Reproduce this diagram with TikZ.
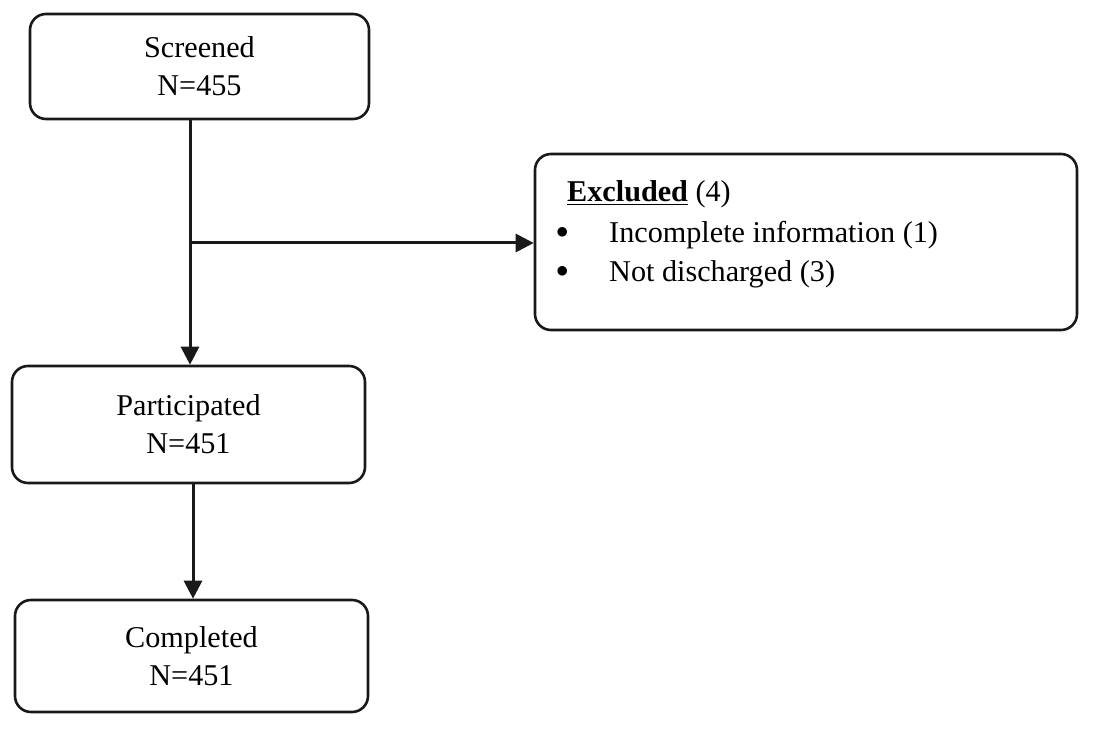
\documentclass[tikz,border=0pt]{standalone}
\usepackage{fontspec}
\setmainfont{Liberation Serif}
\usetikzlibrary{arrows.meta}
\begin{document}
\begin{tikzpicture}[x=1pt,y=-1pt,
  box/.style={draw=black!90, line width=2.6pt, rounded corners=16pt, inner sep=0pt, align=center,
    font=\fontsize{30.2}{38}\selectfont},
  arr/.style={line width=3pt, draw=black!90, -{Triangle[length=18pt,width=18pt]}},
  txt/.style={anchor=base west, inner sep=0pt, font=\fontsize{30.2}{38}\selectfont}]
\useasboundingbox (0,0) rectangle (1096,743);
\node[box, minimum width=339pt, minimum height=105pt] (scr) at (199.5,66.5) {Screened\\N=455};
\node[box, minimum width=353pt, minimum height=117pt] (par) at (188.5,424.5) {Participated\\N=451};
\node[box, minimum width=353pt, minimum height=112pt] (com) at (191.5,656) {Completed\\N=451};
\node[box, minimum width=542pt, minimum height=176pt] (exc) at (806,242) {};
\node[txt] (t0) at (567,202) {\textbf{\underline{Excluded}} (4)};
\node[txt] (b1) at (556,239) {$\bullet$};
\node[txt] (t1) at (609,243) {Incomplete information (1)};
\node[txt] (b2) at (556,278) {$\bullet$};
\node[txt] (t2) at (609,282) {Not discharged (3)};
\coordinate (j) at (190,243);
\coordinate (k) at (193,0);
\draw[arr] (j |- scr.south) -- (j |- par.north);
\draw[arr] (j) -- (j -| exc.west);
\draw[arr] (k |- par.south) -- (k |- com.north);
\end{tikzpicture}
\end{document}
